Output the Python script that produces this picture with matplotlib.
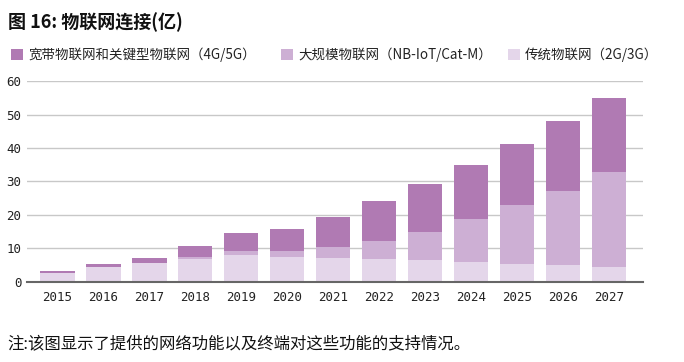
import matplotlib.pyplot as plt
import numpy as np

plt.rcParams['font.family'] = ['Noto Sans CJK SC', 'DejaVu Sans']

years = ['2015', '2016', '2017', '2018', '2019', '2020', '2021',
         '2022', '2023', '2024', '2025', '2026', '2027']
legacy = [2.6, 4.4, 5.6, 6.8, 8.0, 7.4, 7.1, 6.8, 6.5, 5.9, 5.3, 5.0, 4.4]
massive = [0.1, 0.0, 0.0, 0.6, 1.2, 1.8, 3.3, 5.4, 8.4, 12.9, 17.7, 22.2, 28.4]
broadband = [0.5, 0.9, 1.5, 3.3, 5.4, 6.6, 9.0, 12.0, 14.3, 16.1, 18.2, 20.9, 22.2]

labels = ['宽带物联网和关键型物联网（4G/5G）', '大规模物联网（NB-IoT/Cat-M）', '传统物联网（2G/3G）']
colors = ['#b07ab3', '#cdafd4', '#e4d6ea']

fig = plt.figure(figsize=(6.84, 3.62), dpi=100)
ax = fig.add_axes([0.0395, 0.222, 0.9005, 0.554])

x = np.arange(len(years))
w = 0.75
b1 = ax.bar(x, legacy, w, color=colors[2], zorder=2)
b2 = ax.bar(x, massive, w, bottom=legacy, color=colors[1], zorder=2)
bottom3 = np.array(legacy) + np.array(massive)
b3 = ax.bar(x, broadband, w, bottom=bottom3, color=colors[0], zorder=2)

ax.set_xlim(-0.66, 12.74)
ax.set_ylim(0, 60)
ax.set_yticks(range(0, 61, 10))
ax.set_xticks(x)
ax.set_xticklabels(years)
for lab in ax.get_xticklabels() + ax.get_yticklabels():
    lab.set_family('DejaVu Sans Mono')
    lab.set_fontsize(9)
    lab.set_color('#222222')
ax.tick_params(axis='y', length=0, pad=4)
ax.tick_params(axis='x', length=0, pad=7)
ax.grid(axis='y', color='#c8c8c8', linewidth=1, zorder=0)
for s in ['top', 'right', 'left']:
    ax.spines[s].set_visible(False)
ax.spines['bottom'].set_color('#666666')
ax.spines['bottom'].set_linewidth(1.5)
ax.spines['bottom'].set_zorder(3)

fig.text(0.011, 0.938, '图 16: 物联网连接(亿)', fontsize=13, fontweight='bold',
         va='center', ha='left', color='#111111')

# one legend per item so the gaps match the original
handles = [b3, b2, b1]
anchors = [0.0161, 0.4108, 0.7427]
for h, lab, ax_x in zip(handles, labels, anchors):
    leg = fig.legend([h], [lab], loc='center left',
                     bbox_to_anchor=(ax_x, 0.848), frameon=False, fontsize=9.7,
                     handlelength=0.9, handleheight=0.9, handletextpad=0.37,
                     borderaxespad=0, borderpad=0)
    for t in leg.get_texts():
        t.set_color('#222222')

fig.text(0.011, 0.047, '注:该图显示了提供的网络功能以及终端对这些功能的支持情况。', fontsize=11.8,
         va='center', ha='left', color='#111111')

fig.savefig('out.png', dpi=100)
